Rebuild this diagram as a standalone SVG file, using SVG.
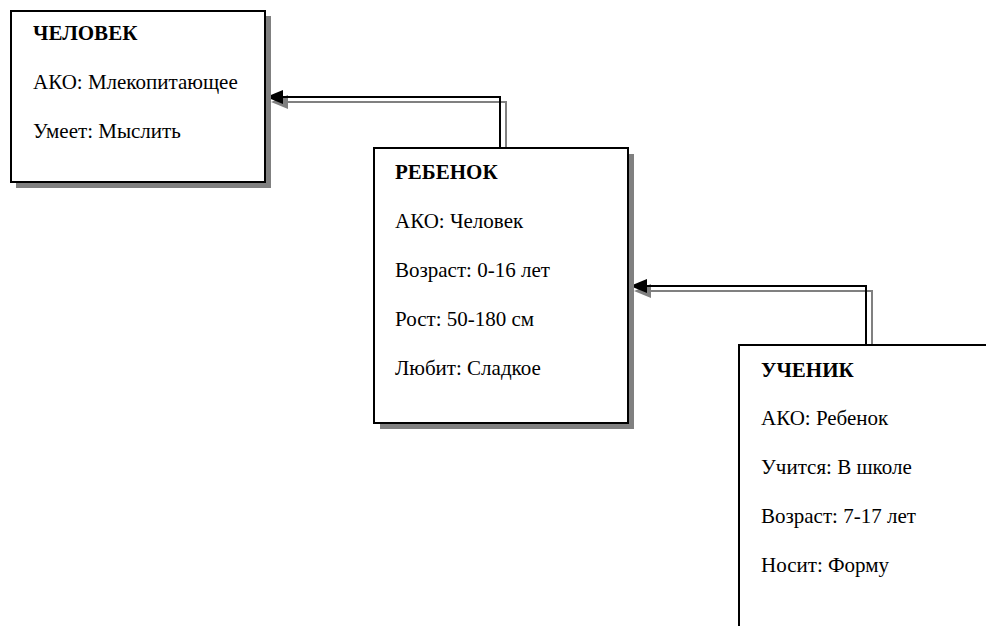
<svg xmlns="http://www.w3.org/2000/svg" width="986" height="626" viewBox="0 0 986 626">
  <style>
    .shadow { fill: #808080; }
    .box { fill: #ffffff; stroke: #000000; stroke-width: 2; }
    .t { font-family: "Liberation Serif", "Times New Roman", serif; font-size: 21px; fill: #000000; }
    .h { font-weight: bold; }
    .line { fill: none; stroke: #000000; stroke-width: 2; }
    .line2 { fill: none; stroke: #808080; stroke-width: 2; }
  </style>
  <rect width="986" height="626" fill="#ffffff"/>

  <g id="connectors">
    <!-- РЕБЕНОК -> ЧЕЛОВЕК -->
    <polyline class="line2" points="506,151 506,102 283,102"/>
    <polygon fill="#808080" points="271,102 288,95 288,109"/>
    <polyline class="line" points="500,148 500,97 280,97"/>
    <polygon fill="#000000" points="266,97 283,90 283,104"/>
    <!-- УЧЕНИК -> РЕБЕНОК -->
    <polyline class="line2" points="872,351 872,291 646,291"/>
    <polygon fill="#808080" points="634,291 651,284 651,298"/>
    <polyline class="line" points="866,345 866,286 644,286"/>
    <polygon fill="#000000" points="630,286 647,279 647,293"/>
  </g>

  <g id="node-chelovek">
    <rect class="shadow" x="16" y="16" width="255" height="172"/>
    <rect class="box" x="11" y="11" width="254" height="171"/>
    <text class="t h" x="33" y="40">ЧЕЛОВЕК</text>
    <text class="t" x="33" y="89">АКО: Млекопитающее</text>
    <text class="t" x="33" y="138">Умеет: Мыслить</text>
  </g>

  <g id="node-rebenok">
    <rect class="shadow" x="380" y="154" width="254" height="275"/>
    <rect class="box" x="374" y="148" width="254" height="275"/>
    <text class="t h" x="395" y="179">РЕБЕНОК</text>
    <text class="t" x="395" y="228">АКО: Человек</text>
    <text class="t" x="395" y="277">Возраст: 0-16 лет</text>
    <text class="t" x="395" y="326">Рост: 50-180 см</text>
    <text class="t" x="395" y="375">Любит: Сладкое</text>
  </g>

  <g id="node-uchenik">
    <rect class="box" x="739" y="345" width="260" height="300"/>
    <text class="t h" x="761" y="377">УЧЕНИК</text>
    <text class="t" x="761" y="425">АКО: Ребенок</text>
    <text class="t" x="761" y="474">Учится: В школе</text>
    <text class="t" x="761" y="523">Возраст: 7-17 лет</text>
    <text class="t" x="761" y="572">Носит: Форму</text>
  </g>
</svg>
